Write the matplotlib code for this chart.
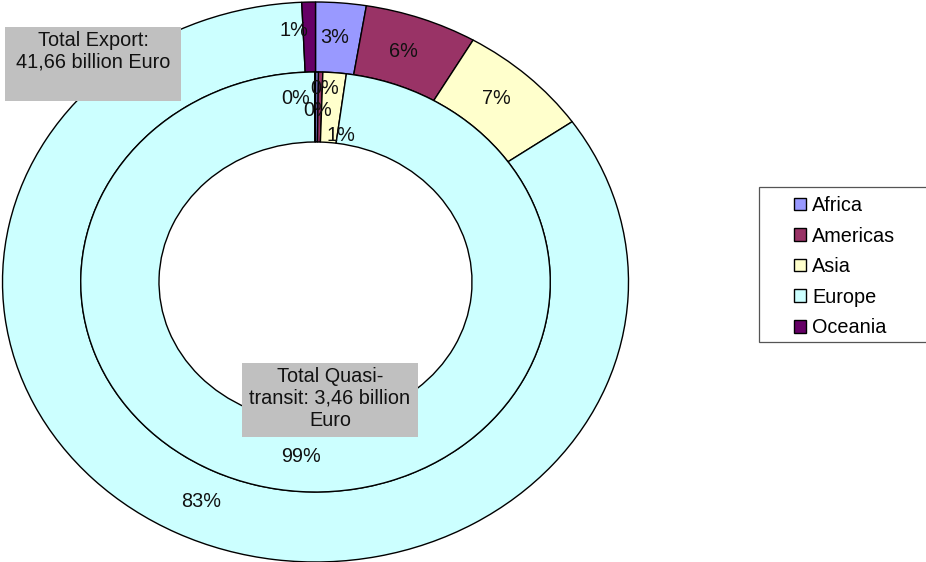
import matplotlib
matplotlib.use("Agg")
import matplotlib.pyplot as plt
from matplotlib.patches import Rectangle
import numpy as np

# -----------------------------------------------------------
# Datos
# -----------------------------------------------------------
regiones = ["Africa", "Americas", "Asia", "Europe", "Oceania"]
colores = ["#9999FF", "#993366", "#FFFFCC", "#CCFFFF", "#660066"]

# anillo exterior: export total
export_share = [2.6, 5.8, 6.9, 84.0, 0.7]
export_labels = ["3%", "6%", "7%", "83%", "1%"]

# anillo interior: quasi-transit
quasi_share = [0.2, 0.3, 1.6, 97.85, 0.05]
quasi_labels = ["0%", "0%", "1%", "99%", "0%"]

texto_export = "Total Export:\n41,66 billion Euro"
texto_quasi = "Total Quasi-\ntransit: 3,46 billion\nEuro"

W, H = 926, 562
plt.rcParams["font.family"] = ["Liberation Sans", "DejaVu Sans"]
FS = 14.3


def fx(px):
    return px / W


def fy(py):
    return 1 - py / H


fig = plt.figure(figsize=(W / 100, H / 100), dpi=100)
ax = fig.add_axes([fx(2.5), fy(562), fx(626), 560 / H])

props = dict(edgecolor="black", linewidth=1.0, clip_on=False)
w_out, _ = ax.pie(export_share, colors=colores, radius=1.0,
                  startangle=90, counterclock=False,
                  wedgeprops=dict(width=0.25, **props))
w_in, _ = ax.pie(quasi_share, colors=colores, radius=0.75,
                 startangle=90, counterclock=False,
                 wedgeprops=dict(width=0.25, **props))
ax.set_aspect("auto")
ax.set_xlim(-1, 1)
ax.set_ylim(-1, 1)
ax.axis("off")


# etiquetas de porcentaje en el centro de cada anillo
def poner_etiquetas(wedges, labels, r, nudges):
    for w, lab, (dx, dy) in zip(wedges, labels, nudges):
        ang = np.deg2rad((w.theta1 + w.theta2) / 2)
        ax.annotate(lab, (r * np.cos(ang), r * np.sin(ang)),
                    xytext=(dx, dy), textcoords="offset pixels",
                    ha="center", va="center", fontsize=FS, color="#111111",
                    annotation_clip=False, zorder=5)


poner_etiquetas(w_out, export_labels, 0.875,
                [(-3, 0), (-5, 0), (-5, 3), (7, 0), (-16, 7)])
poner_etiquetas(w_in, quasi_labels, 0.625,
                [(1, -3), (5, 19), (9, -28), (-2, 0), (-20, 9)])

# cuadros grises con totales
fig.add_artist(Rectangle((fx(5), fy(101)), fx(176), 74 / H,
                         facecolor="#C0C0C0", edgecolor="none",
                         transform=fig.transFigure, zorder=6))
fig.text(fx(93), fy(51), texto_export, ha="center", va="center",
         fontsize=FS, linespacing=1.2, color="#111111", zorder=7)

fig.add_artist(Rectangle((fx(242), fy(437)), fx(176), 74 / H,
                         facecolor="#C0C0C0", edgecolor="none",
                         transform=fig.transFigure, zorder=6))
fig.text(fx(330), fy(398), texto_quasi, ha="center", va="center",
         fontsize=FS, linespacing=1.2, color="#111111", zorder=7)

# leyenda con marco propio
fig.add_artist(Rectangle((fx(759), fy(342)), fx(180), 155 / H,
                         facecolor="white", edgecolor="#555555",
                         linewidth=0.9, transform=fig.transFigure, zorder=1))
fig.legend(w_out, regiones, loc="upper left",
           bbox_to_anchor=(fx(794), fy(196)), frameon=False,
           borderpad=0, borderaxespad=0, fontsize=FS,
           handlelength=0.62, handleheight=0.62, handletextpad=0.3,
           labelspacing=0.58)

fig.savefig("out.png", dpi=100)
